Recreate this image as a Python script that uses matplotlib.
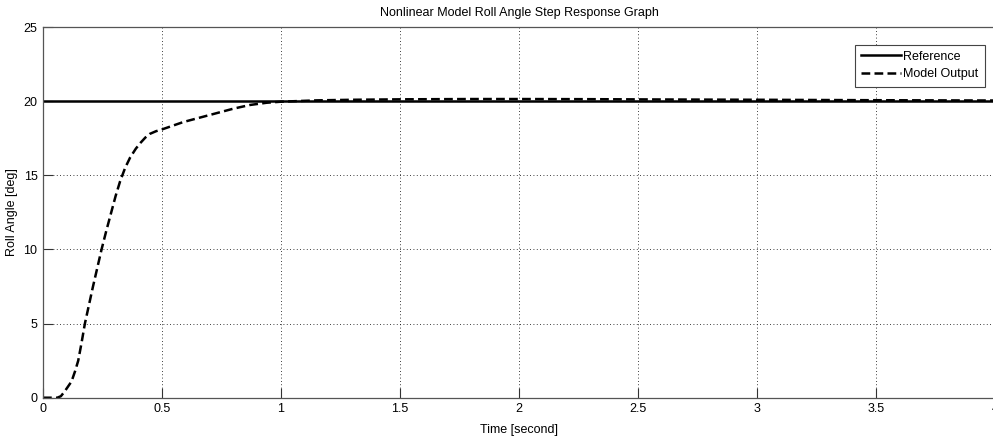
import matplotlib.pyplot as plt

plt.rcParams['font.family'] = ['Liberation Sans Narrow', 'Liberation Sans', 'DejaVu Sans']

# reference signal
ref_t = [0, 4]
ref_y = [20, 20]

# model output
out_t = [0, 0.03, 0.06, 0.075, 0.09, 0.105, 0.12, 0.135, 0.148, 0.162, 0.176, 0.193, 0.21,
         0.228, 0.246, 0.265, 0.285, 0.305, 0.324, 0.345, 0.366, 0.39, 0.41, 0.43, 0.449,
         0.475, 0.5, 0.59, 0.66, 0.73, 0.8, 0.87, 0.94, 1.0, 1.05, 1.15, 1.3, 1.5, 1.8, 2.0,
         2.3, 2.6, 3.0, 3.5, 4.0]
out_y = [0, 0, 0, 0.1, 0.4, 0.75, 1.1, 1.8, 2.5, 3.7, 5.0, 6.25, 7.5,
         8.75, 10.0, 11.2, 12.4, 13.6, 14.6, 15.5, 16.2, 16.8, 17.2, 17.55, 17.8,
         17.98, 18.1, 18.6, 18.9, 19.2, 19.5, 19.75, 19.9, 19.97, 20.0, 20.06, 20.1, 20.13, 20.15, 20.15,
         20.14, 20.12, 20.1, 20.07, 20.05]

fig = plt.figure(figsize=(9.93, 4.37), dpi=100)
ax = fig.add_axes([0.0433, 0.0899, 0.9587, 0.848])

ax.plot(ref_t, ref_y, color='black', linewidth=1.8, label='Reference')
ax.plot(out_t, out_y, color='black', linewidth=1.8, linestyle=(0, (3.5, 1.7)), label='Model Output')

ax.set_xlim(0, 4)
ax.set_ylim(0, 25)
ax.set_xticks([0, 0.5, 1, 1.5, 2, 2.5, 3, 3.5, 4])
ax.set_xticklabels(['0', '0.5', '1', '1.5', '2', '2.5', '3', '3.5', '4'])
ax.set_yticks([0, 5, 10, 15, 20, 25])
ax.grid(True, color='black', linestyle=(0, (1, 3)), linewidth=0.6)
ax.tick_params(direction='in', length=7, width=0.8, labelsize=9, pad=4, colors='#333333',
               labelcolor='black', top=False, right=False)
for s in ax.spines.values():
    s.set_color('#555555')
    s.set_linewidth(0.9)

ax.set_title('Nonlinear Model Roll Angle Step Response Graph', fontsize=9, pad=8)
ax.set_xlabel('Time [second]', fontsize=9, labelpad=6)
ax.set_ylabel('Roll Angle [deg]', fontsize=9, labelpad=4)

leg = ax.legend(loc='upper right', bbox_to_anchor=(0.996, 0.97), fontsize=9, fancybox=False,
                edgecolor='#444444', framealpha=1, handlelength=3.2, handletextpad=0.2,
                borderpad=0.5, labelspacing=0.45)
leg.get_frame().set_linewidth(0.8)

fig.savefig('out.png', dpi=100)
